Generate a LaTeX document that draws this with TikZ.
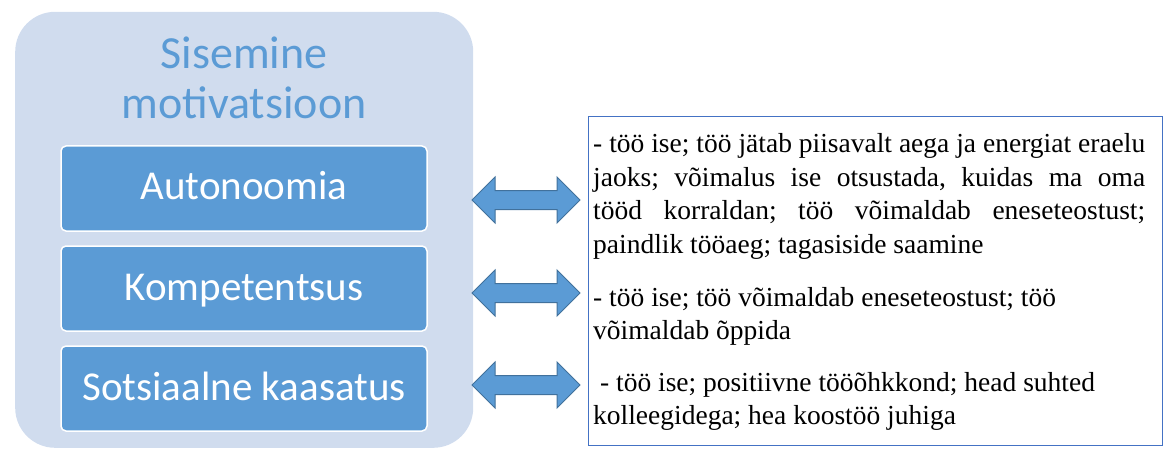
\documentclass[tikz,border=0pt]{standalone}
\usepackage{fontspec}
\setmainfont{Liberation Serif}
\newfontfamily\carlito{Carlito}
\usetikzlibrary{shapes.arrows}
\definecolor{groupfill}{RGB}{208,220,238}
\definecolor{boxblue}{RGB}{91,155,213}
\definecolor{arrowedge}{RGB}{65,113,156}
\definecolor{framecol}{RGB}{68,114,196}
\frenchspacing
\begin{document}
\begin{tikzpicture}[x=1pt,y=1pt,
  catbox/.style={fill=boxblue, draw=white, line width=1.5pt, rounded corners=5pt, minimum width=366pt, minimum height=85pt, inner sep=0pt, text height=29pt, text depth=6pt, text=white, font=\carlito\fontsize{41}{49}\selectfont},
  linkarrow/.style={double arrow, fill=boxblue, draw=arrowedge, line width=1pt, inner xsep=0pt, inner ysep=9pt, minimum height=108pt, double arrow head extend=13.5pt},
  para/.style={anchor=base west, inner sep=0pt, text width=552pt, font=\fontsize{27.5}{33.5}\selectfont}]
\useasboundingbox (0,0) rectangle (1165,448);
\node[fill=groupfill, rounded corners=40pt, minimum width=458pt, minimum height=436pt, anchor=south west] (group) at (15,0) {};
\node[align=center, text=boxblue, font=\carlito\fontsize{46}{50}\selectfont] (title) at (244,370) {Sisemine\\motivatsioon};
\node[catbox] (auto) at (244,259.5) {Autonoomia};
\node[catbox] (komp) at (244,159.5) {Kompetentsus};
\node[catbox] (sots) at (244,59.5) {Sotsiaalne kaasatus};
\node[draw=framecol, line width=1.2pt, minimum width=574pt, minimum height=329pt, anchor=north west] (frame) at (587.5,332) {};
\node[para, align=justify] (t1) at (593,295) {- töö ise; töö jätab piisavalt aega ja energiat eraelu\linebreak jaoks; võimalus ise otsustada, kuidas ma oma\linebreak tööd korraldan; töö võimaldab eneseteostust;\linebreak paindlik tööaeg; tagasiside saamine};
\node[para, align=flush left] (t2) at (593,142) {- töö ise; töö võimaldab eneseteostust; töö\\võimaldab õppida};
\node[para, align=flush left] (t3) at (593,57) {\ - töö ise; positiivne tööõhkkond; head suhted\\kolleegidega; hea koostöö juhiga};
\node[linkarrow] (a1) at (526,248) {};
\node[linkarrow] (a2) at (526,155) {};
\node[linkarrow] (a3) at (526,63) {};
\end{tikzpicture}
\end{document}
